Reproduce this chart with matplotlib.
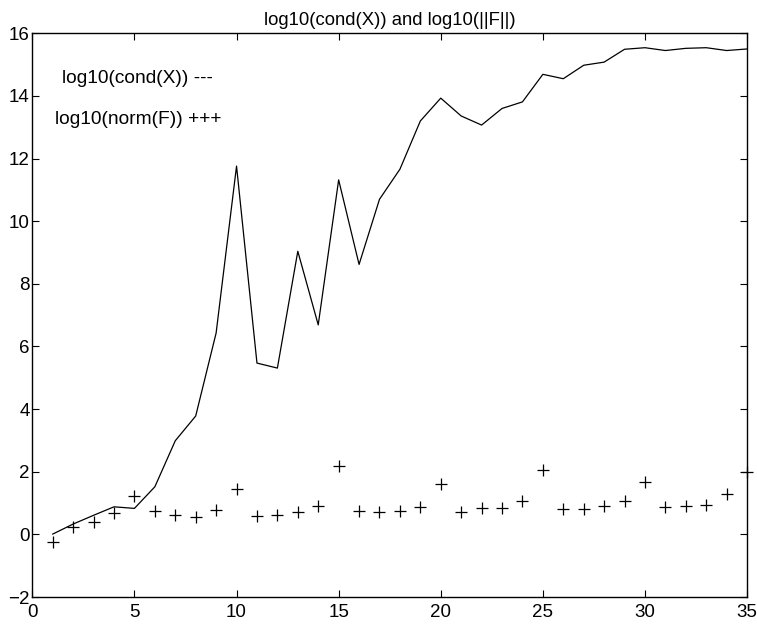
import numpy as np
import matplotlib
matplotlib.use("Agg")
import matplotlib.pyplot as plt

plt.rcParams['font.family'] = ['Liberation Sans', 'DejaVu Sans']

k = np.arange(1, 36)
log_cond = [0.01, 0.33, 0.61, 0.88, 0.83, 1.52, 2.99, 3.78, 6.43, 11.76,
            5.47, 5.31, 9.04, 6.69, 11.32, 8.62, 10.7, 11.66, 13.2, 13.93,
            13.36, 13.07, 13.6, 13.81, 14.69, 14.55, 14.98, 15.08, 15.49, 15.54,
            15.45, 15.52, 15.54, 15.45, 15.5]
log_norm = [-0.23, 0.22, 0.4, 0.67, 1.23, 0.76, 0.61, 0.55, 0.78, 1.46,
            0.6, 0.61, 0.73, 0.91, 2.18, 0.74, 0.7, 0.76, 0.88, 1.62,
            0.72, 0.83, 0.85, 1.07, 2.05, 0.81, 0.81, 0.91, 1.07, 1.68,
            0.86, 0.91, 0.95, 1.29, 1.98]

fig = plt.figure(figsize=(7.57, 6.26), dpi=100)
ax = fig.add_axes([0.0427, 0.0463, 0.9442, 0.9005])

ax.plot(k, log_cond, color='black', linewidth=0.9)
ax.plot(k, log_norm, linestyle='none', marker='+', color='black',
        markersize=8.5, markeredgewidth=0.9, clip_on=False)

ax.set_xlim(0, 35)
ax.set_ylim(-2, 16)
ax.set_xticks(range(0, 36, 5))
ax.set_yticks(range(-2, 17, 2))
ax.tick_params(direction='in', top=True, right=True, length=5, labelsize=13.5)
ax.tick_params(axis='x', pad=5)
ax.tick_params(axis='y', pad=2)
for s in ax.spines.values():
    s.set_linewidth(1.0)

ax.text(1.47, 14.57, 'log10(cond(X)) ---', fontsize=13.8, va='center')
ax.text(1.13, 13.24, 'log10(norm(F)) +++', fontsize=13.8, va='center')
ax.set_title('log10(cond(X)) and log10(||F||)', fontsize=13.3, pad=6)

fig.savefig('out.png', dpi=100)
